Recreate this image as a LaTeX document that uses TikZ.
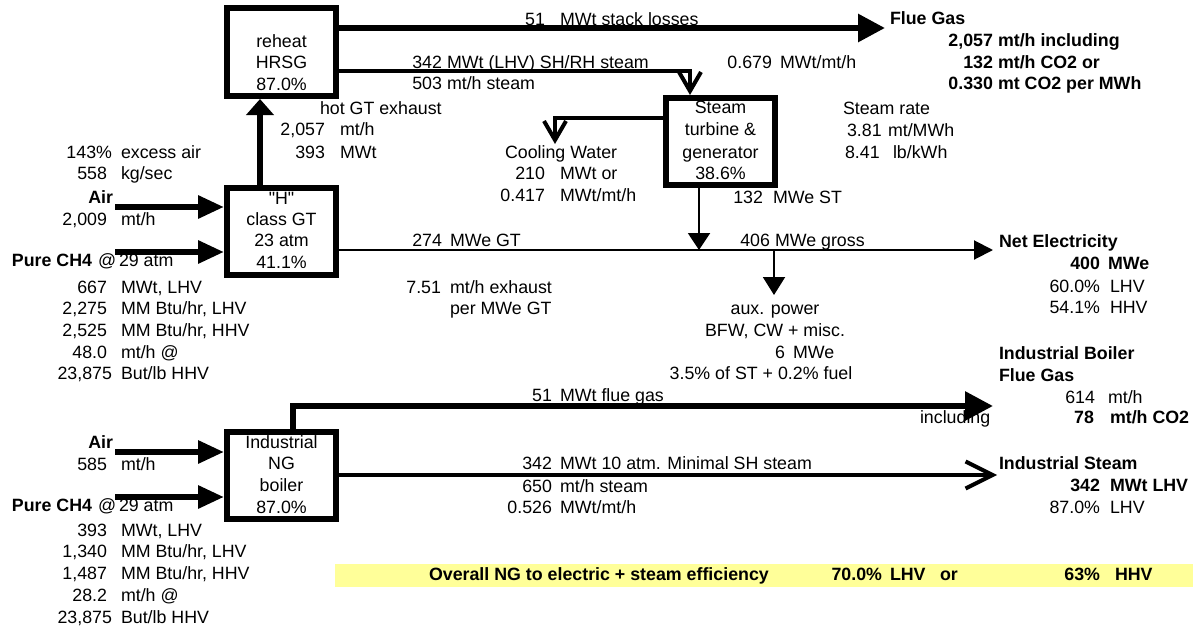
\documentclass[tikz,border=0pt]{standalone}
\usepackage{fontspec}
\setmainfont{Liberation Sans}
\newfontfamily\qfont{Liberation Sans}
\usetikzlibrary{arrows.meta}
\newcommand\txR[4]{\node[txt,anchor=base east] (#1) at (#2,#3) {#4};}
\newcommand\txL[4]{\node[txt,anchor=base west] (#1) at (#2,#3) {#4};}
\newcommand\txC[4]{\node[txt,anchor=base] (#1) at (#2,#3) {#4};}
\begin{document}
\begin{tikzpicture}[x=1pt,y=-1pt,
  txt/.style={font=\fontsize{17.8}{20}\selectfont, inner sep=0pt, outer sep=0pt},
  procbox/.style={draw, line width=6pt, minimum width=109pt, minimum height=87pt, inner sep=0pt},
  heavy/.style={line width=6pt},
  medline/.style={line width=4pt},
  thinline/.style={line width=2pt},
]
\useasboundingbox (0,0) rectangle (1193,629);
\fill[fill={rgb,255:red,255;green,255;blue,153}] (335,564) rectangle (1193,587);

% boxes
\node[procbox, minimum height=88pt] (hrsg) at (281.5,52) {};
\node[procbox] (gt) at (281.5,231.5) {};
\node[procbox] (st) at (720.5,141.5) {};
\node[procbox] (boiler) at (281.5,475.5) {};

% box texts
\txC{h1}{281.5}{47}{reheat}
\txC{h2}{281.5}{68}{HRSG}
\txC{h3}{281.5}{90}{87.0\%}
\txC{g1}{281.5}{204}{{\qfont"H"}}
\txC{g2}{281.5}{225}{class GT}
\txC{g3}{281.5}{246}{23 atm}
\txC{g4}{281.5}{268}{41.1\%}
\txC{s1}{720.5}{113}{Steam}
\txC{s2}{720.5}{135}{turbine \&}
\txC{s3}{720.5}{158}{generator}
\txC{s4}{720.5}{179}{38.6\%}
\txC{b1}{281.5}{448}{Industrial}
\txC{b2}{281.5}{469}{NG}
\txC{b3}{281.5}{491}{boiler}
\txC{b4}{281.5}{513}{87.0\%}

% coordinates
\coordinate (a1) at (115,207);
\coordinate (c1) at (115,252);
\coordinate (a2) at (115,452);
\coordinate (c2) at (115,497);
\coordinate (gtx) at (260,0);
\coordinate (fg) at (885,28);
\coordinate (sr) at (690,71);
\coordinate (cw) at (555,118);
\coordinate (cwe) at (555,144);
\coordinate (stx) at (699,250);
\coordinate (ne) at (993,250);
\coordinate (ax) at (774,250);
\coordinate (axe) at (774,295);
\coordinate (bx) at (293,0);
\coordinate (bf) at (993,406);
\coordinate (is) at (997,475);

% connectors
\draw[heavy,-{Triangle[length=26pt,width=22pt]}] (a1) -- (a1 -| gt.west);
\draw[heavy,-{Triangle[length=26pt,width=22pt]}] (c1) -- (c1 -| gt.west);
\draw[heavy,-{Triangle[length=26pt,width=22pt]}] (a2) -- (a2 -| boiler.west);
\draw[heavy,-{Triangle[length=26pt,width=22pt]}] (c2) -- (c2 -| boiler.west);
\draw[heavy,-{Triangle[length=16pt,width=27pt]}] (gt.north -| gtx) -- (hrsg.south -| gtx);
\draw[heavy,-{Triangle[length=27pt,width=27pt]}] (hrsg.east |- fg) -- (fg);
\draw[medline,-{Straight Barb[length=19pt,width=22pt]}] (hrsg.east |- sr) -- (sr) -- (st.north -| sr);
\draw[medline,-{Straight Barb[length=19pt,width=22pt]}] (st.west |- cw) -- (cw) -- (cwe);
\draw[thinline,-{Triangle[length=17pt,width=22pt]}] (st.south -| stx) -- (stx);
\draw[thinline,-{Triangle[length=19pt,width=19pt]}] (gt.east |- ne) -- (ne);
\draw[thinline,-{Triangle[length=18pt,width=22pt]}] (ax) -- (axe);
\draw[heavy,-{Triangle[length=28pt,width=28pt]}] (boiler.north -| bx) |- (bf);
\draw[medline,-{Straight Barb[length=27pt,width=27pt]}] (boiler.east |- is) -- (is);

% left top block
\txR{l1}{112}{158}{143\%}  \txL{l1u}{121}{158}{excess air}
\txR{l2}{107}{179}{558}    \txL{l2u}{121}{179}{kg/sec}
\txR{l3}{113}{203}{\textbf{Air}}
\txR{l4}{107}{225}{2,009}  \txL{l4u}{121}{225}{mt/h}
\txL{l5}{12}{266}{\textbf{Pure CH4}} \txL{l5a}{98}{266}{@} \txL{l5u}{119}{266}{29 atm}
\txR{l6}{107}{293}{667}    \txL{l6u}{121}{293}{MWt, LHV}
\txR{l7}{107}{314}{2,275}  \txL{l7u}{121}{314}{MM Btu/hr, LHV}
\txR{l8}{107}{336}{2,525}  \txL{l8u}{121}{336}{MM Btu/hr, HHV}
\txR{l9}{107}{358}{48.0}   \txL{l9u}{121}{358}{mt/h @}
\txR{l10}{112}{379}{23,875} \txL{l10u}{121}{379}{But/lb HHV}

% left bottom block
\txR{m3}{113}{448}{\textbf{Air}}
\txR{m4}{107}{470}{585}    \txL{m4u}{121}{470}{mt/h}
\txL{m5}{12}{511}{\textbf{Pure CH4}} \txL{m5a}{98}{511}{@} \txL{m5u}{119}{511}{29 atm}
\txR{m6}{107}{536}{393}    \txL{m6u}{121}{536}{MWt, LHV}
\txR{m7}{107}{557}{1,340}  \txL{m7u}{121}{557}{MM Btu/hr, LHV}
\txR{m8}{107}{579}{1,487}  \txL{m8u}{121}{579}{MM Btu/hr, HHV}
\txR{m9}{107}{601}{28.2}   \txL{m9u}{121}{601}{mt/h @}
\txR{m10}{112}{623}{23,875} \txL{m10u}{121}{623}{But/lb HHV}

% exhaust
\txL{e1}{320}{114}{hot GT exhaust}
\txR{e2}{325}{135}{2,057} \txL{e2u}{340}{135}{mt/h}
\txR{e3}{325}{158}{393}   \txL{e3u}{340}{158}{MWt}

% stack and steam
\txR{k1}{545}{25}{51} \txL{k1u}{560}{25}{MWt stack losses}
\txR{k2}{442}{68}{342} \txL{k2u}{447}{68}{MWt (LHV) SH/RH steam}
\txR{k3}{442}{89}{503} \txL{k3u}{447}{89}{mt/h steam}
\txR{k4}{772}{68}{0.679} \txL{k4u}{780}{68}{MWt/mt/h}

% flue gas
\txL{f1}{890}{24}{\textbf{Flue Gas}}
\txR{f2}{993}{46}{\textbf{2,057}} \txL{f2u}{998}{46}{\textbf{mt/h including}}
\txR{f3}{993}{68}{\textbf{132}}   \txL{f3u}{998}{68}{\textbf{mt/h CO2 or}}
\txR{f4}{993}{89}{\textbf{0.330}} \txL{f4u}{998}{89}{\textbf{mt CO2 per MWh}}

% steam rate
\txL{r1}{843}{114}{Steam rate}
\txL{r2}{847}{136}{3.81} \txL{r2u}{888}{136}{mt/MWh}
\txL{r3}{845}{158}{8.41} \txL{r3u}{893}{158}{lb/kWh}

% cooling water
\txL{w1}{505}{158}{Cooling Water}
\txR{w2}{545}{179}{210}   \txL{w2u}{560}{179}{MWt or}
\txR{w3}{545}{201}{0.417} \txL{w3u}{560}{201}{MWt/mt/h}

% electricity
\txR{p1}{763}{203}{132} \txL{p1u}{773}{203}{MWe ST}
\txR{p2}{442}{246}{274} \txL{p2u}{450}{246}{MWe GT}
\txR{p3}{770}{246}{406} \txL{p3u}{775}{246}{MWe gross}
\txR{p4}{441}{293}{7.51} \txL{p4u}{450}{293}{mt/h exhaust}
\txL{p5}{450}{314}{per MWe GT}

% aux
\txC{x1}{775}{314}{aux. power}
\txC{x2}{775}{336}{BFW, CW + misc.}
\txR{x3}{785}{358}{6} \txL{x3u}{793}{358}{MWe}
\txC{x4}{761}{379}{3.5\% of ST + 0.2\% fuel}

% net electricity
\txL{n1}{999}{247}{\textbf{Net Electricity}}
\txR{n2}{1100}{269}{\textbf{400}} \txL{n2u}{1108}{269}{\textbf{MWe}}
\txR{n3}{1100}{292}{60.0\%} \txL{n3u}{1110}{292}{LHV}
\txR{n4}{1100}{313}{54.1\%} \txL{n4u}{1110}{313}{HHV}

% industrial boiler flue gas
\txL{i1}{999}{359}{\textbf{Industrial Boiler}}
\txL{i2}{999}{381}{\textbf{Flue Gas}}
\txR{i3}{1095}{403}{614} \txL{i3u}{1108}{403}{mt/h}
\txL{i4}{920}{423}{including}
\txR{i5}{1094}{423}{\textbf{78}} \txL{i5u}{1110}{423}{\textbf{mt/h CO2}}
\txR{i6}{552}{401}{51} \txL{i6u}{560}{401}{MWt flue gas}

% industrial steam
\txR{j1}{552}{469}{342} \txL{j1u}{560}{469}{MWt 10 atm. Minimal SH steam}
\txR{j2}{552}{492}{650} \txL{j2u}{560}{492}{mt/h steam}
\txR{j3}{552}{513}{0.526} \txL{j3u}{560}{513}{MWt/mt/h}
\txL{j4}{999}{469}{\textbf{Industrial Steam}}
\txR{j5}{1100}{491}{\textbf{342}} \txL{j5u}{1110}{491}{\textbf{MWt LHV}}
\txR{j6}{1100}{513}{87.0\%} \txL{j6u}{1110}{513}{LHV}

% overall
\txL{o1}{429}{580}{\textbf{Overall NG to electric + steam efficiency}}
\txR{o2}{882}{580}{\textbf{70.0\%}}
\txL{o3}{890}{580}{\textbf{LHV}}
\txL{o4}{940}{580}{\textbf{or}}
\txR{o5}{1100}{580}{\textbf{63\%}}
\txL{o6}{1115}{580}{\textbf{HHV}}
\end{tikzpicture}
\end{document}
